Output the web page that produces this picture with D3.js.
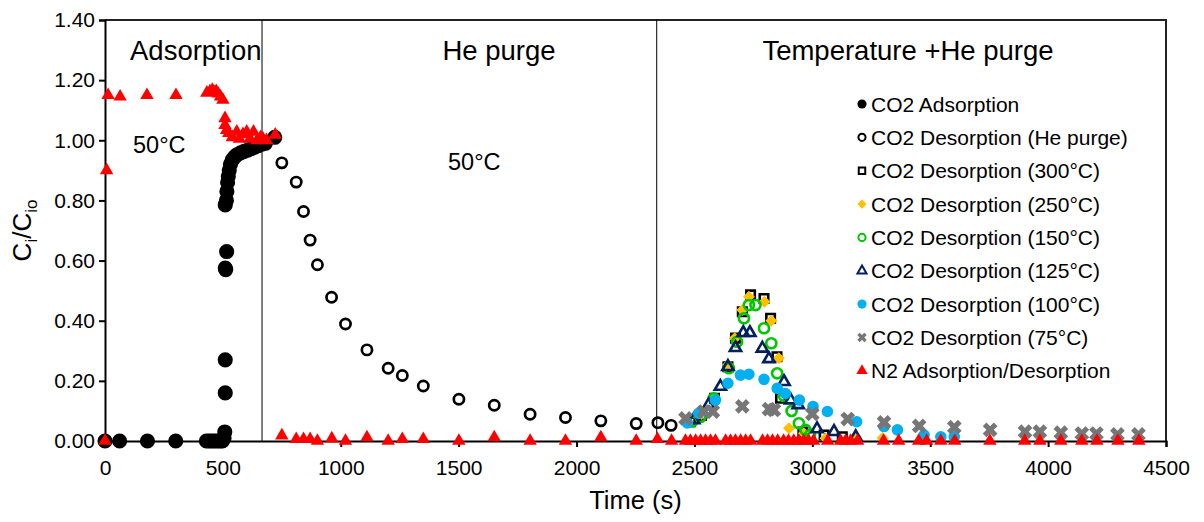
<!DOCTYPE html>
<html>
<head>
<meta charset="utf-8">
<script src="https://cdn.jsdelivr.net/npm/d3@7"></script>
<style>
  body { margin: 0; background: #fff; }
  text { font-family: "Liberation Sans", Arial, sans-serif; fill: #000; }
</style>
</head>
<body>
<div id="container"></div>
<script>
// data: [time (s), Ci/Cio]
var co2Ads = [[0,0],[62,0],[180,0],[300,0],[430,0],[440,0],[450,0],[460,0],[470,0],[480,0],[490,0],[498,0],
  [505,0.01],[508,0.03],[510,0.16],[510,0.27],[512,0.57],[510,0.575],[516,0.63],[510,0.785],[515,0.80],
  [517,0.83],[520,0.86],[523,0.88],[527,0.90],[532,0.92],[540,0.935],[550,0.945],[560,0.952],[575,0.958],
  [590,0.963],[605,0.967],[620,0.972],[635,0.977],[650,0.982],[665,0.987],[680,0.99],[720,1.01]]
var co2He = [[750,0.925],[811,0.861],[842,0.763],[870,0.668],[901,0.586],[961,0.478],[1020,0.389],
  [1111,0.303],[1201,0.242],[1261,0.218],[1350,0.183],[1501,0.139],[1651,0.119],[1803,0.089],
  [1953,0.078],[2103,0.067],[2253,0.058],[2345,0.061],[2401,0.052]]
var co2T300 = [[2483,0.064],[2530,0.085],[2585,0.142],[2642,0.247],[2674,0.342],[2703,0.43],[2738,0.486],
  [2795,0.474],[2823,0.408],[2850,0.28],[2865,0.142],[2960,0.03],[3050,0.02],[3127,0.014]]
var co2T250 = [[2462,0.064],[2530,0.09],[2582,0.142],[2642,0.253],[2671,0.342],[2703,0.436],[2731,0.48],
  [2797,0.463],[2826,0.40],[2858,0.275],[2901,0.042],[2964,0.026],[3056,0.009],[3184,0.014],[3298,0.01]]
var co2T150 = [[2490,0.065],[2526,0.08],[2582,0.142],[2646,0.242],[2681,0.33],[2710,0.408],[2731,0.452],
  [2759,0.452],[2795,0.375],[2826,0.325],[2851,0.225],[2880,0.15],[2912,0.10],[2943,0.059],[2971,0.037],[2990,0.02]]
var co2T125 = [[2497,0.07],[2560,0.12],[2610,0.181],[2642,0.247],[2674,0.31],[2707,0.36],[2735,0.36],
  [2788,0.308],[2816,0.273],[2880,0.197],[2908,0.136],[2940,0.12],[3020,0.04],[3092,0.031],[3184,0.014]]
var co2T100 = [[2470,0.06],[2518,0.092],[2589,0.136],[2642,0.192],[2695,0.219],[2731,0.222],[2795,0.205],
  [2851,0.175],[2886,0.158],[2945,0.136],[3003,0.115],[3064,0.098],[3188,0.064],[3304,0.048],[3361,0.037],
  [3474,0.02],[3545,0.014],[3602,0.014]]
var co2T75 = [[2462,0.075],[2540,0.098],[2578,0.098],[2703,0.115],[2816,0.106],[2837,0.103],[3000,0.09],
  [3150,0.073],[3304,0.062],[3453,0.05],[3602,0.046],[3754,0.037],[3902,0.031],[3965,0.031],[4054,0.028],
  [4143,0.025],[4205,0.025],[4294,0.022],[4383,0.022]]
var n2 = [[0,0],[7,0.90],[13,1.15],[64,1.145],[178,1.15],[301,1.15],[432,1.158],[445,1.162],[455,1.167],
  [465,1.16],[472,1.163],[480,1.155],[490,1.145],[500,1.134],[509,1.073],[509,1.05],[516,1.034],[525,1.024],
  [540,1.01],[559,1.028],[570,1.005],[585,1.02],[601,1.028],[615,1.005],[630,1.028],[645,1.0],[660,1.01],
  [670,1.005],[685,1.0],[722,1.018],
  [750,0.018],[811,0.006],[842,0.006],[870,0.006],[901,0],[962,0.008],[1020,0],[1111,0.012],[1201,0],
  [1261,0.006],[1350,0.006],[1501,0],[1651,0.012],[1803,0],[1953,0],[2103,0.012],[2253,0],[2343,0.006],
  [2403,0],[2462,0],[2483,0],[2505,0],[2526,0],[2547,0],[2568,0],[2589,0],[2632,0],[2653,0],[2674,0],
  [2696,0],[2717,0],[2738,0],[2789,0],[2810,0],[2831,0],[2853,0],[2878,0],[2899,0],[2921,0],[2942,0],
  [2963,0],[2984,0],[3005,0],[3065,0],[3120,0],[3141,0],[3162,0],[3192,0],[3302,0],[3366,0],[3451,0],
  [3485,0],[3545,0],[3604,0],[3753,0],[3901,0],[3965,0],[4054,0],[4143,0],[4207,0],[4296,0],[4385,0]]

var seriesNames = ['CO2 Adsorption', 'CO2 Desorption (He purge)', 'CO2 Desorption (300°C)',
  'CO2 Desorption (250°C)', 'CO2 Desorption (150°C)', 'CO2 Desorption (125°C)',
  'CO2 Desorption (100°C)', 'CO2 Desorption (75°C)', 'N2 Adsorption/Desorption']
var xTicks = [0, 500, 1000, 1500, 2000, 2500, 3000, 3500, 4000, 4500]
var yTicks = [0, 0.2, 0.4, 0.6, 0.8, 1.0, 1.2, 1.4]
var phaseBounds = [666, 2340]
var phaseLabels = ['Adsorption', 'He purge', 'Temperature +He purge']

var W = 1204, H = 522
var x = d3.scaleLinear().domain([0, 4500]).range([105, 1166])
var y = d3.scaleLinear().domain([0, 1.4]).range([441, 20])

var svg = d3.select('#container').append('svg').attr('width', W).attr('height', H)

// marker styles, in legend order (later ones drawn on top)
var series = [
  { data: co2Ads, shape: d3.symbolCircle, size: 180, lsize: 66, fill: '#000', stroke: 'none', sw: 0 },
  { data: co2He, shape: d3.symbolCircle, size: 82, lsize: 40, fill: 'none', stroke: '#000', sw: 2.7 },
  { data: co2T300, shape: d3.symbolSquare, size: 72, lsize: 42, fill: 'none', stroke: '#000', sw: 2.6 },
  { data: co2T250, shape: d3.symbolSquare, size: 72, lsize: 42, fill: '#FFC000', stroke: 'none', sw: 0, rot: 45 },
  { data: co2T150, shape: d3.symbolCircle, size: 80, lsize: 40, fill: 'none', stroke: '#00C800', sw: 2.6 },
  { data: co2T125, shape: d3.symbolTriangle, size: 55, lsize: 36, fill: 'none', stroke: '#002060', sw: 2.6 },
  { data: co2T100, shape: d3.symbolCircle, size: 105, lsize: 66, fill: '#00B0F0', stroke: 'none', sw: 0 },
  { data: co2T75, shape: d3.symbolCross, size: 135, lsize: 55, fill: '#767676', stroke: 'none', sw: 0, rot: 45 },
  { data: n2, shape: d3.symbolTriangle, size: 78, lsize: 55, fill: '#FF0000', stroke: 'none', sw: 0 }
]
series.forEach(function (s, i) { s.name = seriesNames[i] })

// plot frame (top / right)
svg.append('path')
  .attr('d', 'M' + x(0) + ',' + y(1.4) + 'H' + x(4500) + 'V' + y(0))
  .attr('fill', 'none').attr('stroke', '#222').attr('stroke-width', 2)

// phase separators
svg.selectAll('line.phase').data(phaseBounds).join('line')
  .attr('class', 'phase')
  .attr('x1', x).attr('x2', x)
  .attr('y1', y(1.4)).attr('y2', y(0))
  .attr('stroke', '#000').attr('stroke-width', 1)

// axes
var yAxis = svg.append('g').attr('transform', 'translate(' + x(0) + ',0)')
  .call(d3.axisLeft(y).tickValues(yTicks).tickFormat(d3.format('.2f')).tickSizeOuter(0).tickSize(6).tickPadding(4))
var xAxis = svg.append('g').attr('transform', 'translate(0,' + y(0) + ')')
  .call(d3.axisBottom(x).tickValues(xTicks).tickFormat(d3.format('d')).tickSizeOuter(0).tickSize(6).tickPadding(13))
;[yAxis, xAxis].forEach(function (a) {
  a.select('.domain').attr('stroke', '#000').attr('stroke-width', 2)
  a.selectAll('.tick line').attr('stroke', '#000').attr('stroke-width', 2)
  a.selectAll('.tick text').attr('font-size', 21).attr('font-family', '"Liberation Sans", Arial, sans-serif').attr('fill', '#000')
})

// phase titles
svg.append('text').attr('x', 130).attr('y', 60).attr('font-size', 27.5).text(phaseLabels[0])
svg.append('text').attr('x', 499).attr('y', 60).attr('font-size', 27.5).attr('text-anchor', 'middle').text(phaseLabels[1])
svg.append('text').attr('x', 908).attr('y', 60).attr('font-size', 27.5).attr('text-anchor', 'middle').text(phaseLabels[2])
svg.append('text').attr('x', 133).attr('y', 153).attr('font-size', 23.5).text('50°C')
svg.append('text').attr('x', 448).attr('y', 170).attr('font-size', 23.5).text('50°C')

// axis titles
svg.append('text').attr('x', x(2250)).attr('y', 509).attr('font-size', 25.5).attr('text-anchor', 'middle').text('Time (s)')
var yt = svg.append('text').attr('transform', 'translate(31,' + y(0.7) + ') rotate(-90)')
  .attr('font-size', 26).attr('text-anchor', 'middle')
yt.append('tspan').text('C')
yt.append('tspan').attr('font-size', 17).attr('dy', 6).text('i')
yt.append('tspan').attr('dy', -6).text('/C')
yt.append('tspan').attr('font-size', 17).attr('dy', 6).text('io')

function symbolPath(s, size) {
  return d3.symbol().type(s.shape).size(size)()
}

// markers
series.forEach(function (s) {
  var path = symbolPath(s, s.size)
  svg.append('g').selectAll('path').data(s.data).join('path')
    .attr('transform', function (d) {
      return 'translate(' + x(d[0]) + ',' + y(d[1]) + ')' + (s.rot ? ' rotate(' + s.rot + ')' : '')
    })
    .attr('d', path)
    .attr('fill', s.fill).attr('stroke', s.stroke).attr('stroke-width', s.sw)
})

// legend
var legend = svg.append('g').selectAll('g').data(series).join('g')
  .attr('transform', function (d, i) { return 'translate(862,' + (104 + i * 33.35) + ')' })
legend.append('path')
  .attr('d', function (s) { return symbolPath(s, s.lsize) })
  .attr('transform', function (s) { return s.rot ? 'rotate(' + s.rot + ')' : null })
  .attr('fill', function (s) { return s.fill })
  .attr('stroke', function (s) { return s.stroke })
  .attr('stroke-width', function (s) { return s.sw ? 2 : 0 })
legend.append('text').attr('x', 9).attr('y', 7.5).attr('font-size', 21).text(function (s) { return s.name })
</script>
</body>
</html>
